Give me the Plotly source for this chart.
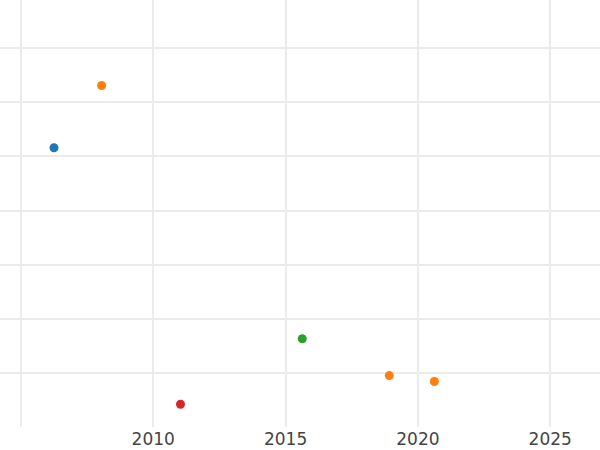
import plotly.graph_objects as go

years = [2006.25, 2008.05, 2011.03, 2015.63, 2018.92, 2020.62]
values = [51.6, 63.1, 4.2, 16.3, 9.5, 8.4]
colors = ["#1f77b4", "#ff7f0e", "#d62728", "#2ca02c", "#ff7f0e", "#ff7f0e"]
x_ticks = [2005, 2010, 2015, 2020, 2025]
x_labels = ["", "2010", "2015", "2020", "2025"]

fig = go.Figure()
fig.add_trace(go.Scatter(x=years, y=values, mode="markers",
                         marker=dict(color=colors, size=9), showlegend=False))

fig.update_layout(
    width=600, height=450,
    margin=dict(l=0, r=0, t=0, b=23),
    paper_bgcolor="white", plot_bgcolor="white",
    font=dict(family="DejaVu Sans", size=17, color="#444"),
)
fig.update_xaxes(range=[2004.21, 2026.88], tickvals=x_ticks, ticktext=x_labels,
                 gridcolor="#ebebeb", gridwidth=1.5, zeroline=False, showline=False)
fig.update_yaxes(range=[0, 78.9], dtick=10, showticklabels=False,
                 gridcolor="#ebebeb", gridwidth=1.5, zeroline=False, showline=False)

# page has a default 8px body margin; drop it so the chart fills the window
fig.write_html("out.html", config={"displayModeBar": False},
               post_script="document.body.style.margin='0';")
